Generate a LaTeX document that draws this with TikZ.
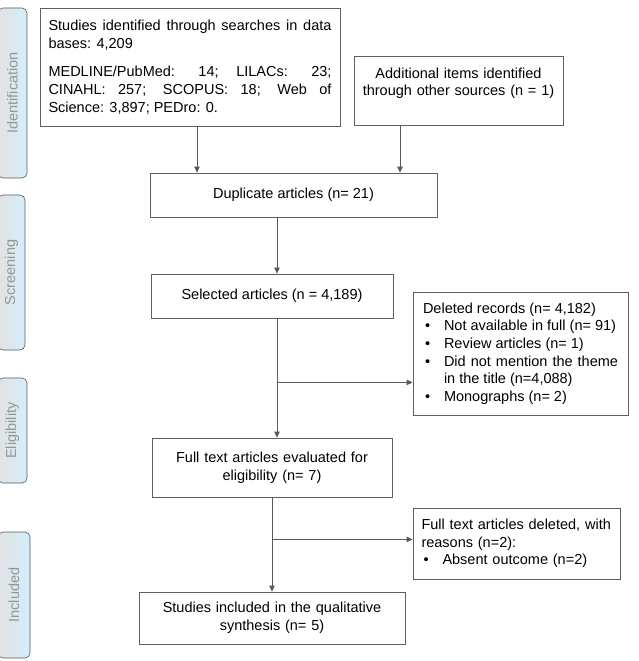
\documentclass[tikz,border=0pt]{standalone}
\usepackage{fontspec}
\setmainfont{Liberation Sans}
\usepackage{graphicx}
\usetikzlibrary{arrows.meta}
\definecolor{boxgray}{RGB}{95,95,95}
\definecolor{linegray}{RGB}{90,90,90}
\definecolor{tabgray}{RGB}{226,226,226}
\definecolor{tabblue}{RGB}{212,238,250}
\definecolor{tabtext}{RGB}{150,150,150}
\definecolor{tabedge}{RGB}{80,90,100}
\hyphenpenalty=10000
\exhyphenpenalty=10000
\newcommand{\prismaitem}[1]{\par\hangindent=21pt\hangafter=1\noindent\makebox[21pt][l]{\hspace{2pt}\textbullet}#1}

\begin{document}
\begin{tikzpicture}[x=1pt,y=1pt]
\tikzstyle{every node}+=[font=\fontsize{14.5}{17.6}\selectfont]
\tikzstyle{box}=[draw=boxgray, line width=0.8pt, inner xsep=8.5pt, inner ysep=0pt, rectangle]
\tikzstyle{tab}=[draw=tabedge, line width=0.6pt, rounded corners=5pt, left color=tabgray, middle color=tabgray, right color=tabblue, text=tabtext, inner sep=0pt]
\tikzstyle{arr}=[draw=linegray, line width=0.8pt, -{Triangle[length=6pt,width=5.5pt]}]
\useasboundingbox (0,0) rectangle (639,-661);
\node[tab, minimum width=29pt, minimum height=170pt] (ident) at (12.5,-93) {\rotatebox{90}{Identification}};
\node[tab, minimum width=27pt, minimum height=155pt] (screen) at (11.5,-272.5) {\rotatebox{90}{Screening}};
\node[tab, minimum width=29pt, minimum height=105pt] (elig) at (12.5,-430.5) {\rotatebox{90}{Eligibility}};
\node[tab, minimum width=32pt, minimum height=126pt] (incl) at (14,-595) {\rotatebox{90}{Included}};
\node[box, text width=283pt, minimum height=118pt, align=justify] (search) at (190,-67) {Studies identified through searches in data bases: 4,209\par\vspace{11pt}MEDLINE/PubMed: 14; LILACs: 23; CINAHL: 257; SCOPUS: 18; Web of Science: 3,897; PEDro: 0.};
\node[box, text width=192pt, minimum height=69pt, align=center] (other) at (458.5,-90.5) {Additional items identified\\through other sources (n = 1)\\ \mbox{}};
\node[box, minimum width=287pt, minimum height=44pt] (dup) at (293.5,-195) {Duplicate articles (n= 21)};
\node[box, minimum width=242pt, minimum height=44pt] (sel) at (272,-296) {Selected articles (n = 4,189)};
\node[box, text width=195pt, inner xsep=10pt, minimum height=123pt, align=justify] (del) at (520.5,-353.5) {Deleted records (n= 4,182)\prismaitem{Not available in full (n= 91)}\prismaitem{Review articles (n= 1)}\prismaitem{Did not mention the theme in the title (n=4,088)}\prismaitem{Monographs (n= 2)}};
\node[box, text width=223pt, minimum height=59pt, align=center] (full) at (272,-467.5) {Full text articles evaluated for\\eligibility (n= 7)};
\node[box, text width=190pt, minimum height=71pt, align=left] (fdel) at (516.5,-543.5) {Full text articles deleted, with reasons (n=2):\prismaitem{Absent outcome (n=2)}};
\node[box, text width=249pt, minimum height=52pt, align=center] (inc) at (272,-618) {Studies included in the qualitative\\synthesis (n= 5)};
\path ([xshift=7pt]search.south) coordinate (a1) ([xshift=-58.5pt]other.south) coordinate (a2)
  ([xshift=-16.5pt]dup.south) coordinate (a3) ([xshift=5pt]sel.south) coordinate (a4);
\coordinate (b1) at ([yshift=-64pt]a4);
\coordinate (b2) at ([yshift=-42pt]full.south);
\draw[arr] (a1) -- (a1 |- dup.north);
\draw[arr] (a2) -- (a2 |- dup.north);
\draw[arr] (a3) -- (a3 |- sel.north);
\draw[arr] (a4) -- (a4 |- full.north);
\draw[arr] (b1) -- (b1 -| del.west);
\draw[arr] (full.south) -- (inc.north);
\draw[arr] (b2) -- (b2 -| fdel.west);
\end{tikzpicture}
\end{document}
